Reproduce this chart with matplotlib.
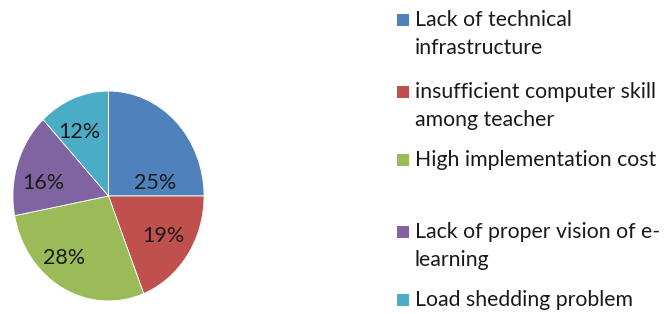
import matplotlib.pyplot as plt
from matplotlib.patches import Rectangle

labels = ['Lack of technical\ninfrastructure', 'insufficient computer skill\namong teacher',
          'High implementation cost', 'Lack of proper vision of e-\nlearning',
          'Load shedding problem']
shares = [25, 19, 28, 16, 12]
colors = ['#4F81BD', '#C0504D', '#9BBB59', '#8064A2', '#4BACC6']
# where Excel put each percent label, in pie radius units
label_pos = [(0.49, 0.12), (0.58, -0.38), (-0.46, -0.59), (-0.68, 0.12), (-0.30, 0.61)]

plt.rcParams['font.family'] = ['Lato', 'DejaVu Sans']

fig = plt.figure(figsize=(6.65, 3.14), dpi=100)
ax = fig.add_axes([12 / 665, 12 / 314, 193 / 665, 212 / 314])
wedges, texts, autotexts = ax.pie(shares, colors=colors, startangle=90, counterclock=False,
                                  autopct='%d%%', radius=1,
                                  wedgeprops=dict(edgecolor='white', linewidth=0.6),
                                  textprops=dict(fontsize=15.5, color='#1a1a1a'))
for t, (x, y) in zip(autotexts, label_pos):
    t.set_position((x, y))
ax.set_aspect('auto')
ax.set_xlim(-1.01, 1.01)
ax.set_ylim(-1.01, 1.01)

# legend drawn by hand to keep Excel's spacing
rows = [20, 92, 160, 232, 300]
for lab, c, y in zip(labels, colors, rows):
    yf = 1 - y / 314
    fig.patches.append(Rectangle((397 / 665, yf - 6 / 314), 12 / 665, 12 / 314,
                                 transform=fig.transFigure, facecolor=c, edgecolor='none'))
    for i, line in enumerate(lab.split('\n')):
        fig.text(415 / 665, yf - i * 28 / 314, line, fontsize=15.3, color='#1a1a1a',
                 va='center')

fig.savefig('out.png', dpi=100)
